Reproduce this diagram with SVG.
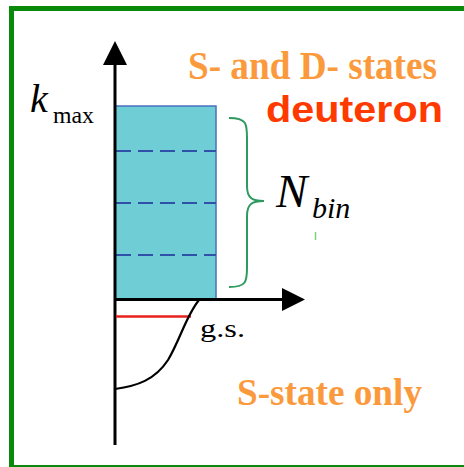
<svg xmlns="http://www.w3.org/2000/svg" width="464" height="467" viewBox="0 0 464 467">
<style>
.ser{font-family:"Liberation Serif","Times New Roman",serif}
.orange{fill:#fb9a3c;font-weight:bold}
.ax{stroke:#000;stroke-width:3;fill:none}
.dash{stroke:#2f52a8;stroke-width:2;stroke-dasharray:15 7}
</style>
<rect width="464" height="467" fill="#fff"/>
<rect x="11.5" y="8.5" width="470" height="459" fill="none" stroke="#0a8a0a" stroke-width="5"/>
<g id="bins">
<rect x="115" y="106" width="101" height="193" fill="#6fcdd6" stroke="#4a6fc0" stroke-width="1.5"/>
<line class="dash" x1="116" y1="151" x2="216" y2="151"/>
<line class="dash" x1="116" y1="203" x2="216" y2="203"/>
<line class="dash" x1="116" y1="255" x2="216" y2="255"/>
</g>
<g id="connectors">
<line class="ax" x1="115" y1="445" x2="115" y2="64"/>
<path d="M103,65 L115,41 L127,65 Z" fill="#000"/>
<line class="ax" x1="114" y1="299.5" x2="283" y2="299.5"/>
<path d="M282,288 L305,299.5 L282,311 Z" fill="#000"/>
<line x1="116" y1="316.5" x2="191" y2="316.5" stroke="#e8201c" stroke-width="2.5"/>
<path d="M199,300 C186,316 180,340 168,360 C155,380 137,386 115,389" fill="none" stroke="#000" stroke-width="2.2"/>
<path d="M229,118 C247,118 247,124 247,138 L247,186 C247,198 252,201 264,201 C252,201 247,204 247,216 L247,268 C247,282 246,287 229,287" fill="none" stroke="#2e9a5e" stroke-width="2"/>
<line x1="315.5" y1="232" x2="315.5" y2="240" stroke="#7fd27f" stroke-width="1.5"/>
</g>
<g id="labels">
<text class="ser" x="30" y="112" font-size="40" font-style="italic">k</text>
<text class="ser" x="53" y="123" font-size="24" textLength="41" lengthAdjust="spacingAndGlyphs">max</text>
<text class="ser orange" x="188" y="79" font-size="39" textLength="249" lengthAdjust="spacingAndGlyphs">S- and D- states</text>
<text x="266" y="122" font-size="37" font-weight="bold" fill="#ff3a00" font-family="'Liberation Sans',Arial,sans-serif" textLength="177" lengthAdjust="spacingAndGlyphs">deuteron</text>
<text class="ser" x="276" y="207" font-size="47" font-style="italic">N</text>
<text class="ser" x="312" y="218" font-size="30" font-style="italic">bin</text>
<text class="ser" x="200" y="337" font-size="26" textLength="45" lengthAdjust="spacingAndGlyphs">g.s.</text>
<text class="ser orange" x="237" y="405" font-size="38" textLength="185" lengthAdjust="spacingAndGlyphs">S-state only</text>
</g>
</svg>
